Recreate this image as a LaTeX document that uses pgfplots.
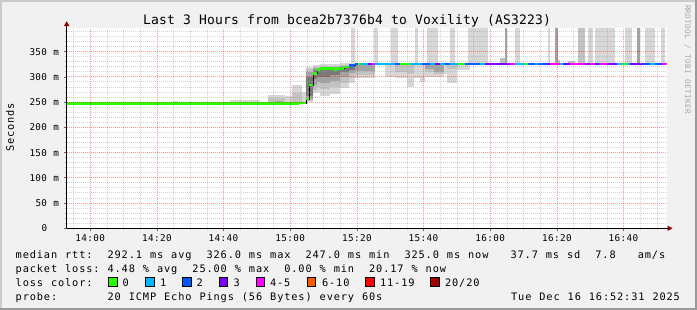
\documentclass[border=0pt]{standalone}
\usepackage{pgfplots}
\pgfplotsset{compat=1.18}
\usepackage{fontspec}
\newfontfamily\dm{DejaVu Sans Mono}
\definecolor{bgc}{HTML}{F1F1F1}
\definecolor{shA}{HTML}{CBCBCB}
\definecolor{shB}{HTML}{9A9A9A}
\definecolor{arrowc}{HTML}{8B0000}
\definecolor{mgc}{HTML}{FF0000}
\definecolor{gc}{HTML}{A0A0A0}
\definecolor{sm1}{HTML}{D7D7D7}
\definecolor{sm2}{HTML}{C2C2C2}
\definecolor{sm3}{HTML}{A2A2A2}
\definecolor{sm4}{HTML}{787878}
\definecolor{sm5}{HTML}{4C4C4C}
\definecolor{lc0}{HTML}{26FF00}
\definecolor{lc1}{HTML}{00B8FF}
\definecolor{lc2}{HTML}{0059FF}
\definecolor{lc3}{HTML}{7E00FF}
\definecolor{lc4}{HTML}{FF00FF}
\definecolor{lc6}{HTML}{FF5500}
\definecolor{lc11}{HTML}{FF0000}
\definecolor{lc20}{HTML}{A00000}
\makeatletter
\def\monoend{\monoend}
\newcommand\mono[2]{\begingroup\def\mono@w{#1}\mono@#2\monoend\endgroup}
\def\mono@#1{\ifx#1\monoend\else\makebox[\mono@w][l]{#1}\expandafter\mono@\fi}
\makeatother
\tikzset{
  sA/.style={fill=sm1,draw=none},
  sB/.style={fill=sm2,draw=none},
  sC/.style={fill=sm3,draw=none},
  sD/.style={fill=sm4,draw=none},
  sE/.style={fill=sm5,draw=none},
  seg/.style={line width=2.5bp},
}
\newcommand\lgf{\fontsize{10.3bp}{12bp}\dm}
\begin{document}
\begin{tikzpicture}
\fill[bgc] (0,0) rectangle (697bp,-310bp);
\fill[shA] (0,0) rectangle (697bp,-2bp);
\fill[shA] (0,0) rectangle (2bp,-310bp);
\fill[shB] (0,-308bp) rectangle (697bp,-310bp);
\fill[shB] (695bp,0) rectangle (697bp,-310bp);
\begin{axis}[
  at={(66.7bp,-228.3bp)}, anchor=south west,
  scale only axis, width=600bp, height=200bp,
  xmin=-7.1, xmax=172.9, ymin=0, ymax=396.4,
  axis background/.style={fill=white},
  axis line style={draw=none},
  axis on top,
  tick pos=left, tick align=outside,
  major tick length=3bp, minor tick length=2bp,
  major tick style={draw=black!60, line width=0.8bp},
  minor tick style={draw=black!25, line width=0.8bp},
  xtick={0,20,...,160},
  xticklabels={\mono{6bp}{14:00},\mono{6bp}{14:20},\mono{6bp}{14:40},\mono{6bp}{15:00},\mono{6bp}{15:20},\mono{6bp}{15:40},\mono{6bp}{16:00},\mono{6bp}{16:20},\mono{6bp}{16:40}},
  minor xtick={-5,5,10,15,25,30,35,45,50,55,65,70,75,85,90,95,105,110,115,125,130,135,145,150,155,165,170},
  ytick={0,50,...,350},
  yticklabels={\mono{6bp}{0~~},\mono{6bp}{50~m},\mono{6bp}{100~m},\mono{6bp}{150~m},\mono{6bp}{200~m},\mono{6bp}{250~m},\mono{6bp}{300~m},\mono{6bp}{350~m}},
  minor ytick={10,20,30,40,60,70,80,90,110,120,130,140,160,170,180,190,210,220,230,240,260,270,280,290,310,320,330,340,360,370,380,390},
  grid=both,
  major grid style={draw=mgc, opacity=0.4, line width=1bp, dash pattern=on 1bp off 1bp},
  minor grid style={draw=gc, opacity=0.45, line width=1bp, dash pattern=on 1bp off 1bp},
  ticklabel style={font=\fontsize{9.3bp}{11bp}\dm, inner sep=0pt},
  yticklabel style={anchor=east, xshift=-4bp},
  xticklabel style={anchor=north, yshift=-3bp},
]
% ---- smoke, before the jump
\addplot[sA] coordinates {(24.8,247)(26.3,247)(26.3,252)(24.8,252)};
\addplot[sA] coordinates {(36.5,247)(37.7,247)(37.7,250)(36.5,250)};
\addplot[sA] coordinates {(41.9,247)(50.9,247)(50.9,255)(41.9,255)};
\addplot[sB] coordinates {(41.9,247)(50.9,247)(50.9,250)(41.9,250)};
\addplot[sA] coordinates {(53.3,247)(58.4,247)(58.4,265)(53.3,265)};
\addplot[sB] coordinates {(53.3,247)(58.4,247)(58.4,258)(53.3,258)};
\addplot[sC] coordinates {(55.4,248)(57.5,248)(57.5,253)(55.4,253)};
\addplot[sA] coordinates {(58.4,247)(60.5,247)(60.5,262)(58.4,262)};
\addplot[sA] coordinates {(60.5,247)(63.5,247)(63.5,285)(60.5,285)};
\addplot[sB] coordinates {(60.5,247)(63.5,247)(63.5,268)(60.5,268)};
\addplot[sA] coordinates {(63.5,248)(64.8,248)(64.8,270)(63.5,270)};
% ---- smoke, the jump
\addplot[sA] coordinates {(64.8,250)(66.9,250)(66.9,320)(64.8,320)};
\addplot[sB] coordinates {(64.8,252)(66.9,252)(66.9,316)(64.8,316)};
\addplot[sC] coordinates {(64.8,256)(66.9,256)(66.9,310)(64.8,310)};
\addplot[sD] coordinates {(64.8,262)(66.9,262)(66.9,300)(64.8,300)};
\addplot[sA] coordinates {(66.9,268)(68.0,268)(68.0,324)(66.9,324)};
\addplot[sB] coordinates {(66.9,275)(68.0,275)(68.0,320)(66.9,320)};
\addplot[sC] coordinates {(66.9,285)(68.0,285)(68.0,318)(66.9,318)};
\addplot[sD] coordinates {(66.9,295)(68.0,295)(68.0,314)(66.9,314)};
\addplot[sA] coordinates {(68.0,270)(69.0,270)(69.0,324)(68.0,324)};
\addplot[sB] coordinates {(68.0,280)(69.0,280)(69.0,320)(68.0,320)};
\addplot[sC] coordinates {(68.0,290)(69.0,290)(69.0,318)(68.0,318)};
\addplot[sD] coordinates {(68.0,300)(69.0,300)(69.0,316)(68.0,316)};
\addplot[sA] coordinates {(69.0,262)(71.9,262)(71.9,326)(69.0,326)};
\addplot[sB] coordinates {(69.0,276)(71.9,276)(71.9,322)(69.0,322)};
\addplot[sC] coordinates {(69.0,288)(71.9,288)(71.9,319)(69.0,319)};
\addplot[sD] coordinates {(69.0,300)(71.9,300)(71.9,317)(69.0,317)};
\addplot[sA] coordinates {(71.9,266)(74.9,266)(74.9,326)(71.9,326)};
\addplot[sB] coordinates {(71.9,280)(74.9,280)(74.9,322)(71.9,322)};
\addplot[sC] coordinates {(71.9,292)(74.9,292)(74.9,319)(71.9,319)};
\addplot[sD] coordinates {(71.9,304)(74.9,304)(74.9,316)(71.9,316)};
\addplot[sA] coordinates {(74.9,278)(77.7,278)(77.7,328)(74.9,328)};
\addplot[sB] coordinates {(74.9,288)(77.7,288)(77.7,324)(74.9,324)};
\addplot[sC] coordinates {(74.9,300)(77.7,300)(77.7,321)(74.9,321)};
\addplot[sD] coordinates {(74.9,310)(77.7,310)(77.7,319)(74.9,319)};
\addplot[sA] coordinates {(77.7,288)(79.4,288)(79.4,328)(77.7,328)};
\addplot[sB] coordinates {(77.7,298)(79.4,298)(79.4,326)(77.7,326)};
\addplot[sC] coordinates {(77.7,308)(79.4,308)(79.4,324)(77.7,324)};
\addplot[sD] coordinates {(77.7,314)(79.4,314)(79.4,323)(77.7,323)};
\addplot[sA] coordinates {(79.4,298)(85.4,298)(85.4,327)(79.4,327)};
\addplot[sB] coordinates {(79.4,304)(85.4,304)(85.4,326)(79.4,326)};
\addplot[sC] coordinates {(79.4,312)(85.4,312)(85.4,326)(79.4,326)};
% ---- smoke below the line, later
\addplot[sA] coordinates {(88.5,300)(91.4,300)(91.4,326)(88.5,326)};
\addplot[sA] coordinates {(91.4,298)(95.0,298)(95.0,326)(91.4,326)};
\addplot[sB] coordinates {(91.4,310)(95.0,310)(95.0,325)(91.4,325)};
\addplot[sA] coordinates {(95.0,281)(97.0,281)(97.0,326)(95.0,326)};
\addplot[sB] coordinates {(95.0,305)(97.0,305)(97.0,325)(95.0,325)};
\addplot[sA] coordinates {(97.0,298)(99.0,298)(99.0,326)(97.0,326)};
\addplot[sA] coordinates {(99.0,290)(100.5,290)(100.5,326)(99.0,326)};
\addplot[sA] coordinates {(100.5,300)(103.0,300)(103.0,326)(100.5,326)};
\addplot[sB] coordinates {(100.5,310)(103.0,310)(103.0,325)(100.5,325)};
\addplot[sC] coordinates {(100.5,316)(103.0,316)(103.0,325)(100.5,325)};
\addplot[sA] coordinates {(103.0,300)(106.0,300)(106.0,326)(103.0,326)};
\addplot[sB] coordinates {(103.0,305)(106.0,305)(106.0,325)(103.0,325)};
\addplot[sC] coordinates {(103.0,310)(106.0,310)(106.0,324)(103.0,324)};
\addplot[sA] coordinates {(106.0,305)(107.0,305)(107.0,326)(106.0,326)};
\addplot[sA] coordinates {(107.0,288)(110.0,288)(110.0,326)(107.0,326)};
\addplot[sB] coordinates {(107.0,315)(110.0,315)(110.0,325)(107.0,325)};
\addplot[sA] coordinates {(110.0,314)(113.9,314)(113.9,326)(110.0,326)};
% ---- tall smoke columns
\addplot[sA] coordinates {(78.2,327)(79.4,327)(79.4,396.4)(78.2,396.4)};
\addplot[sA] coordinates {(85.1,327)(86.3,327)(86.3,396.4)(85.1,396.4)};
\addplot[sA] coordinates {(90.2,327)(92.3,327)(92.3,396.4)(90.2,396.4)};
\addplot[sA] coordinates {(97.4,327)(98.3,327)(98.3,396.4)(97.4,396.4)};
\addplot[sA] coordinates {(101.0,327)(104.3,327)(104.3,396.4)(101.0,396.4)};
\addplot[sA] coordinates {(107.9,327)(109.4,327)(109.4,396.4)(107.9,396.4)};
\addplot[sA] coordinates {(113.3,327)(119.3,327)(119.3,396.4)(113.3,396.4)};
\addplot[sB] coordinates {(122.9,326)(125.0,326)(125.0,337)(122.9,337)};
\addplot[sC] coordinates {(124.4,327)(125.0,327)(125.0,396.4)(124.4,396.4)};
\addplot[sA] coordinates {(127.4,327)(128.9,327)(128.9,396.4)(127.4,396.4)};
\addplot[sA] coordinates {(137.3,327)(137.9,327)(137.9,396.4)(137.3,396.4)};
\addplot[sB] coordinates {(139.4,326)(140.9,326)(140.9,333)(139.4,333)};
\addplot[sC] coordinates {(139.4,327)(140.3,327)(140.3,396.4)(139.4,396.4)};
\addplot[sB] coordinates {(143.3,326)(145.4,326)(145.4,332)(143.3,332)};
\addplot[sB] coordinates {(146.3,327)(148.4,327)(148.4,396.4)(146.3,396.4)};
\addplot[sA] coordinates {(149.3,327)(150.8,327)(150.8,396.4)(149.3,396.4)};
\addplot[sA] coordinates {(151.4,327)(157.4,327)(157.4,396.4)(151.4,396.4)};
\addplot[sA] coordinates {(160.4,327)(162.5,327)(162.5,396.4)(160.4,396.4)};
\addplot[sC] coordinates {(164.0,327)(164.9,327)(164.9,396.4)(164.0,396.4)};
\addplot[sA] coordinates {(166.4,327)(169.4,327)(169.4,396.4)(166.4,396.4)};
\addplot[sA] coordinates {(171.2,327)(172.4,327)(172.4,396.4)(171.2,396.4)};
% ---- median rtt, black step line
\addplot[const plot, black, line width=0.8bp] coordinates {(-7.1,247)(62.7,248)(64.8,256)(65.7,284)(66.9,307)(68.0,315)(69.0,317)(73.2,315)(74.1,317)(76.2,320)(77.7,323)(79.4,326)(172.9,326)};
% ---- median rtt coloured by loss
\addplot[seg,lc0] coordinates {(-7.1,247)(62.7,247)};
\addplot[seg,lc0] coordinates {(62.7,248)(64.8,248)};
\addplot[seg,lc0] coordinates {(64.8,256)(65.7,256)};
\addplot[seg,lc0] coordinates {(65.7,284)(66.9,284)};
\addplot[seg,lc0] coordinates {(66.9,307)(68.0,307)};
\addplot[seg,lc0] coordinates {(68.0,315)(69.0,315)};
\addplot[seg,lc0] coordinates {(69.0,317)(73.2,317)};
\addplot[seg,lc0] coordinates {(73.2,315)(74.1,315)};
\addplot[seg,lc0] coordinates {(74.1,317)(76.2,317)};
\addplot[seg,lc0] coordinates {(76.2,320)(77.7,320)};
\addplot[seg,lc2] coordinates {(77.7,323)(79.4,323)};
\addplot[seg,lc2] coordinates {(79.4,326)(80.3,326)};
\addplot[seg,lc0] coordinates {(80.3,326)(81.2,326)};
\addplot[seg,lc1] coordinates {(81.2,326)(83.3,326)};
\addplot[seg,lc3] coordinates {(83.3,326)(84.5,326)};
\addplot[seg,lc4] coordinates {(84.5,326)(85.4,326)};
\addplot[seg,lc1] coordinates {(85.4,326)(91.4,326)};
\addplot[seg,lc2] coordinates {(91.4,326)(92.9,326)};
\addplot[seg,lc0] coordinates {(92.9,326)(95.9,326)};
\addplot[seg,lc1] coordinates {(95.9,326)(99.5,326)};
\addplot[seg,lc2] coordinates {(99.5,326)(101.9,326)};
\addplot[seg,lc1] coordinates {(101.9,326)(103.4,326)};
\addplot[seg,lc3] coordinates {(103.4,326)(104.9,326)};
\addplot[seg,lc1] coordinates {(104.9,326)(106.4,326)};
\addplot[seg,lc2] coordinates {(106.4,326)(107.9,326)};
\addplot[seg,lc1] coordinates {(107.9,326)(110.3,326)};
\addplot[seg,lc0] coordinates {(110.3,326)(112.4,326)};
\addplot[seg,lc2] coordinates {(112.4,326)(116.9,326)};
\addplot[seg,lc1] coordinates {(116.9,326)(118.4,326)};
\addplot[seg,lc3] coordinates {(118.4,326)(125.9,326)};
\addplot[seg,lc4] coordinates {(125.9,326)(127.4,326)};
\addplot[seg,lc1] coordinates {(127.4,326)(130.4,326)};
\addplot[seg,lc0] coordinates {(130.4,326)(131.3,326)};
\addplot[seg,lc2] coordinates {(131.3,326)(133.4,326)};
\addplot[seg,lc1] coordinates {(133.4,326)(134.3,326)};
\addplot[seg,lc2] coordinates {(134.3,326)(137.0,326)};
\addplot[seg,lc3] coordinates {(137.0,326)(137.9,326)};
\addplot[seg,lc4] coordinates {(137.9,326)(140.9,326)};
\addplot[seg,lc1] coordinates {(140.9,326)(141.8,326)};
\addplot[seg,lc3] coordinates {(141.8,326)(143.9,326)};
\addplot[seg,lc4] coordinates {(143.9,326)(148.4,326)};
\addplot[seg,lc3] coordinates {(148.4,326)(149.9,326)};
\addplot[seg,lc4] coordinates {(149.9,326)(151.4,326)};
\addplot[seg,lc3] coordinates {(151.4,326)(152.3,326)};
\addplot[seg,lc2] coordinates {(152.3,326)(152.9,326)};
\addplot[seg,lc4] coordinates {(152.9,326)(155.0,326)};
\addplot[seg,lc3] coordinates {(155.0,326)(158.0,326)};
\addplot[seg,lc1] coordinates {(158.0,326)(159.5,326)};
\addplot[seg,lc0] coordinates {(159.5,326)(161.0,326)};
\addplot[seg,lc1] coordinates {(161.0,326)(161.9,326)};
\addplot[seg,lc3] coordinates {(161.9,326)(165.8,326)};
\addplot[seg,lc2] coordinates {(165.8,326)(167.9,326)};
\addplot[seg,lc1] coordinates {(167.9,326)(169.4,326)};
\addplot[seg,lc2] coordinates {(169.4,326)(171.5,326)};
\addplot[seg,lc4] coordinates {(171.5,326)(172.9,326)};
\end{axis}
% axis lines and arrows
\draw[black, line width=1bp] (66.7bp,-228.3bp) -- (668bp,-228.3bp);
\fill[arrowc] (672.5bp,-228.3bp) -- (667.5bp,-225.6bp) -- (667.5bp,-231bp) -- cycle;
\draw[black, line width=1bp] (66.7bp,-228.3bp) -- (66.7bp,-25bp);
\fill[arrowc] (66.7bp,-21.2bp) -- (64bp,-26bp) -- (69.4bp,-26bp) -- cycle;
% title
\node[anchor=base west, inner sep=0pt] at (143bp,-24bp) {\fontsize{13bp}{15bp}\dm\mono{8bp}{Last~3~Hours~from~bcea2b7376b4~to~Voxility~(AS3223)}};
% y label
\node[rotate=90, inner sep=0pt] at (10bp,-127bp) {\lgf\mono{6.9bp}{Seconds}};
% rrdtool tag
\node[rotate=-90, inner sep=0pt, text=black!35] at (687.5bp,-60bp) {\fontsize{7.6bp}{9bp}\dm\mono{5bp}{RRDTOOL~/~TOBI~OETIKER}};
% legend lines
\node[anchor=base west, inner sep=0pt] at (15.5bp,-258.3bp) {\lgf\mono{7.07bp}{median~rtt:~~292.1~ms~avg~~326.0~ms~max~~247.0~ms~min~~325.0~ms~now~~~37.7~ms~sd~~7.8~~~am/s}};
\node[anchor=base west, inner sep=0pt] at (15.5bp,-272.3bp) {\lgf\mono{7.07bp}{packet~loss:~4.48~\%~avg~~25.00~\%~max~~0.00~\%~min~~20.17~\%~now}};
\node[anchor=base west, inner sep=0pt] at (15.5bp,-286bp) {\lgf\mono{7.07bp}{loss~color:}};
\node[anchor=base west, inner sep=0pt] at (15.5bp,-300bp) {\lgf\mono{7.07bp}{probe:~~~~~~~20~ICMP~Echo~Pings~(56~Bytes)~every~60s}};
\node[anchor=base east, inner sep=0pt] at (681bp,-300bp) {\lgf\mono{7.07bp}{Tue~Dec~16~16:52:31~2025}};
% loss colour swatches
\filldraw[fill=lc0, draw=black, line width=0.8bp] (108.7bp,-277.5bp) rectangle (117.2bp,-286bp);
\filldraw[fill=lc1, draw=black, line width=0.8bp] (145.7bp,-277.5bp) rectangle (154.2bp,-286bp);
\filldraw[fill=lc2, draw=black, line width=0.8bp] (182.7bp,-277.5bp) rectangle (191.2bp,-286bp);
\filldraw[fill=lc3, draw=black, line width=0.8bp] (219.3bp,-277.5bp) rectangle (227.8bp,-286bp);
\filldraw[fill=lc4, draw=black, line width=0.8bp] (256bp,-277.5bp) rectangle (264.5bp,-286bp);
\filldraw[fill=lc6, draw=black, line width=0.8bp] (307.3bp,-277.5bp) rectangle (315.8bp,-286bp);
\filldraw[fill=lc11, draw=black, line width=0.8bp] (365.7bp,-277.5bp) rectangle (374.2bp,-286bp);
\filldraw[fill=lc20, draw=black, line width=0.8bp] (430.7bp,-277.5bp) rectangle (439.2bp,-286bp);
\node[anchor=base west, inner sep=0pt] at (122.5bp,-286bp) {\lgf 0};
\node[anchor=base west, inner sep=0pt] at (159.9bp,-286bp) {\lgf 1};
\node[anchor=base west, inner sep=0pt] at (196.5bp,-286bp) {\lgf 2};
\node[anchor=base west, inner sep=0pt] at (233.5bp,-286bp) {\lgf 3};
\node[anchor=base west, inner sep=0pt] at (269.9bp,-286bp) {\lgf\mono{7.07bp}{4-5}};
\node[anchor=base west, inner sep=0pt] at (321.9bp,-286bp) {\lgf\mono{7.07bp}{6-10}};
\node[anchor=base west, inner sep=0pt] at (379.9bp,-286bp) {\lgf\mono{7.07bp}{11-19}};
\node[anchor=base west, inner sep=0pt] at (444.9bp,-286bp) {\lgf\mono{7.07bp}{20/20}};
\pgfresetboundingbox
\path (0,0) rectangle (697bp,-310bp);
\end{tikzpicture}
\end{document}
